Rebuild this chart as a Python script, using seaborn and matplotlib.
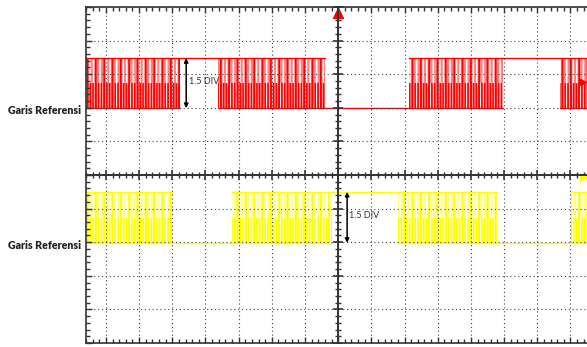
import numpy as np
import pandas as pd
import matplotlib
matplotlib.use("Agg")
import matplotlib.pyplot as plt
import matplotlib.transforms as mtransforms
from matplotlib.ticker import MultipleLocator
import seaborn as sns

# ---------------- data (units: oscilloscope divisions) ----------------
RED_REF, RED_MID, RED_HIGH = 1.99, 2.75, 3.48
YEL_REF, YEL_MID, YEL_HIGH = -2.02, -1.28, -0.50

red_seg_start = [-7.60, -4.76, -3.61, -0.39, 2.14, 4.97, 6.69]
red_seg_end   = [-4.76, -3.61, -0.39, 2.14, 4.97, 6.69, 7.50]
red_seg_kind  = ["pwm", "high", "pwm", "low", "pwm", "high", "pwm"]

yel_seg_start = [-7.60, -5.00, -3.19, -0.18, 1.81, 4.79, 7.02]
yel_seg_end   = [-5.00, -3.19, -0.18, 1.81, 4.79, 7.02, 7.50]
yel_seg_kind  = ["pwm", "low", "pwm", "high", "pwm", "low", "pwm"]

ref_label = "Garis Referensi"
div_label = "1.5 DIV"
red_arrow_x = -4.58
yel_arrow_x = 0.27

# ---------------- style ----------------
sns.set_theme(style="white")
plt.rcParams["font.family"] = ["Lato", "DejaVu Sans"]
plt.rcParams["hatch.linewidth"] = 1.2

W, H = 587, 347
fig = plt.figure(figsize=(W / 100, H / 100), dpi=100)
ax = fig.add_axes([86 / W, 4 / H, (587 - 86) / W, (343 - 7) / H])
ax.set_xlim(-7.6, 7.5)
ax.set_ylim(-5, 5)

RED, PINK = "#ff0000", "#ff8080"
YEL, PALE = "#ffff00", "#ffff88"


def channel_frame(starts, ends, kinds, ref, high, name):
    rows = []
    for i, (s, e, k) in enumerate(zip(starts, ends, kinds)):
        if k in ("pwm", "high"):
            rows += [(s, high, f"{name}top{i}"), (e, high, f"{name}top{i}")]
        if k in ("pwm", "low"):
            rows += [(s, ref, f"{name}bot{i}"), (e, ref, f"{name}bot{i}")]
    return pd.DataFrame(rows, columns=["t", "v", "unit"])


def draw_pwm(starts, ends, kinds, ref, mid, high, c_main, c_light):
    for s, e, k in zip(starts, ends, kinds):
        if k != "pwm":
            continue
        ax.bar(x=s, height=high - ref, width=e - s, bottom=ref, align="edge",
               facecolor="none", edgecolor=c_light, hatch="|||||", linewidth=0)
        ax.bar(x=s, height=high - mid, width=e - s, bottom=mid, align="edge",
               facecolor="none", edgecolor=c_light, hatch="|||", linewidth=0)
        ax.bar(x=s, height=high - ref, width=e - s, bottom=ref, align="edge",
               facecolor="none", edgecolor=c_main, hatch="||", linewidth=0)
        ax.bar(x=s, height=mid - ref, width=e - s, bottom=ref, align="edge",
               facecolor="none", edgecolor=c_main, hatch="||||||", linewidth=0)


draw_pwm(red_seg_start, red_seg_end, red_seg_kind, RED_REF, RED_MID, RED_HIGH, RED, PINK)
draw_pwm(yel_seg_start, yel_seg_end, yel_seg_kind, YEL_REF, YEL_MID, YEL_HIGH, YEL, PALE)

red_df = channel_frame(red_seg_start, red_seg_end, red_seg_kind, RED_REF, RED_HIGH, "r")
yel_df = channel_frame(yel_seg_start, yel_seg_end, yel_seg_kind, YEL_REF, YEL_HIGH, "y")
sns.lineplot(data=red_df, x="t", y="v", units="unit", estimator=None, sort=False,
             color=RED, lw=1.0, ax=ax, legend=False)
sns.lineplot(data=yel_df, x="t", y="v", units="unit", estimator=None, sort=False,
             color=YEL, lw=1.0, ax=ax, legend=False)

# grid & border
ax.xaxis.set_major_locator(MultipleLocator(1))
ax.yaxis.set_major_locator(MultipleLocator(1))
ax.xaxis.set_minor_locator(MultipleLocator(0.2))
ax.yaxis.set_minor_locator(MultipleLocator(0.2))
ax.set_axisbelow(False)
ax.grid(True, which="major", color="#444444", lw=0.8, linestyle=(0, (1, 2.5)))
for side in ("left", "top", "bottom"):
    ax.spines[side].set_visible(True)
    ax.spines[side].set_color("#333333")
    ax.spines[side].set_linewidth(1.2)
ax.spines["right"].set_visible(False)
ax.tick_params(which="both", direction="in", top=True, bottom=True, left=True,
               right=False, labelbottom=False, labelleft=False, color="#333333")
ax.tick_params(which="major", length=4, width=1)
ax.tick_params(which="minor", length=3, width=1)
ax.set_xlabel("")
ax.set_ylabel("")

# centre axes
ax2 = fig.add_axes(ax.get_position(), sharex=ax, sharey=ax)
ax2.patch.set_visible(False)
ax2.grid(False)
ax2.spines["left"].set_position(("data", 0))
ax2.spines["bottom"].set_position(("data", 0))
ax2.spines["top"].set_visible(False)
ax2.spines["right"].set_visible(False)
for side in ("left", "bottom"):
    ax2.spines[side].set_visible(True)
    ax2.spines[side].set_color("#333333")
    ax2.spines[side].set_linewidth(1.4)
ax2.tick_params(which="both", direction="inout", top=False, right=False,
                left=True, bottom=True, labelbottom=False, labelleft=False,
                color="#333333")
ax2.tick_params(which="major", length=7, width=1.2)
ax2.tick_params(which="minor", length=5, width=1)

# markers
ax2.plot([0], [4.82], marker="^", color=RED, ms=7, clip_on=False)
ax2.plot([7.42], [-0.05], marker=">", color=YEL, ms=5.5, clip_on=False)
ax2.plot([7.38], [2.77], marker=">", color=RED, ms=5, clip_on=False)

# arrows + labels
for xa, lo, hi in ((red_arrow_x, RED_REF, RED_HIGH), (yel_arrow_x, YEL_REF, YEL_HIGH)):
    ax2.annotate("", xy=(xa, hi), xytext=(xa, lo),
                 arrowprops=dict(arrowstyle="<|-|>", color="black", lw=1.1,
                                 mutation_scale=6, shrinkA=0, shrinkB=0))
    ax2.text(xa + 0.07, (lo + hi) / 2 + 0.05, div_label, fontsize=6.5,
             color="#333333", ha="left", va="center")

trans = mtransforms.blended_transform_factory(ax.transAxes, ax.transData)
for lvl in (RED_REF, YEL_REF):
    ax.text(-0.009, lvl - 0.08, ref_label, transform=trans, ha="right",
            va="center", fontsize=7.7, fontweight="heavy", color="#222222")

fig.savefig("out.png", dpi=100)
